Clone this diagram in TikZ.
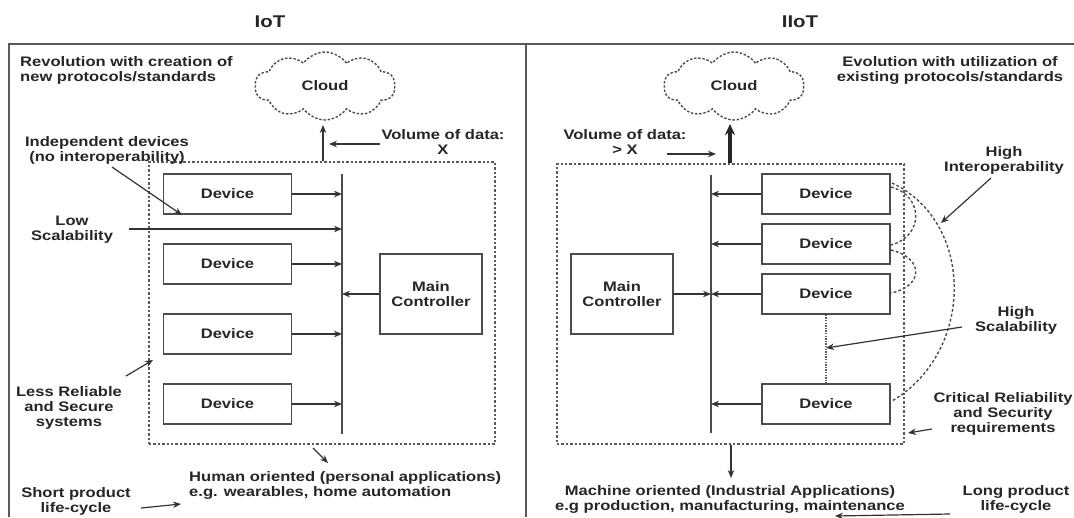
\documentclass[tikz,border=0pt]{standalone}
\usepackage{fontspec}
\setmainfont{Liberation Sans}[FakeStretch=1.2]
\usetikzlibrary{arrows.meta,shapes.symbols}
\newcommand{\lblf}{\fontsize{13.8}{15}\selectfont\bfseries}
\newcommand{\ttlf}{\fontsize{17}{20}\selectfont\bfseries}
\begin{document}
\begin{tikzpicture}[x=1pt,y=-1pt,
  lbl/.style={font=\lblf, text=black!85, align=center, inner sep=0pt},
  ttl/.style={font=\ttlf, text=black!85, inner sep=0pt},
  dev/.style={draw=black!70, line width=1.7pt, minimum width=128pt, minimum height=40pt, inner sep=0pt, font=\lblf, text=black!85},
  mcbox/.style={draw=black!70, line width=1.7pt, minimum width=102pt, minimum height=80pt, inner sep=0pt, font=\lblf, text=black!85, align=center},
  bus/.style={draw=black!70, line width=2.2pt},
  arr/.style={draw=black!80, line width=1.2pt, -{Stealth[length=8pt,width=6.5pt]}},
  dbox/.style={draw=black!65, line width=1.4pt, dash pattern=on 2.4pt off 2pt, inner sep=0pt},
  cld/.style={cloud, cloud puffs=10, cloud puff arc=110, aspect=2.1, draw=black!70, line width=1.4pt, dash pattern=on 2.4pt off 1.8pt, minimum width=140pt, minimum height=68pt, inner sep=0pt, font=\lblf, text=black!85},
  arc/.style={draw=black!70, line width=1.4pt, dash pattern=on 2.8pt off 2.2pt}
]
\useasboundingbox (0,0) rectangle (1074,517);
\fill[white] (0,0) rectangle (1074,517);

% panel frame
\draw[draw=black!65, line width=2pt] (9,517) -- (9,44) -- (1074,44);
\draw[draw=black!65, line width=2pt] (526,44) -- (526,517);

% ---------------- IoT ----------------
\node[ttl] (tIoT) at (270,22) {IoT};
\node[lbl, align=left, anchor=west] (revL) at (20,70) {Revolution with creation of\\new protocols/standards};
\node[cld] (cloudL) at (325,86) {Cloud};
\node[dbox, minimum width=346pt, minimum height=282pt] (boxL) at (322,303) {};
\coordinate (busLt) at (342,174);
\coordinate (busLb) at (342,434);
\draw[bus] (busLt) -- (busLb);
\node[dev] (dL1) at (227.5,194) {Device};
\node[dev] (dL2) at (227.5,264) {Device};
\node[dev] (dL3) at (227.5,334) {Device};
\node[dev] (dL4) at (227.5,404) {Device};
\node[mcbox] (mcL) at (431,294) {Main\\Controller};
\foreach \d in {dL1,dL2,dL3,dL4} \draw[arr] (\d.east) -- (\d.east -| busLt);
\draw[arr] (mcL.west) -- (mcL.west -| busLt);
\draw[arr, line width=1.4pt] (boxL.north -| 323,0) -- (323,125);

\node[lbl] (volL) at (443,142) {Volume of data:\\X};
\coordinate (volLe) at (329,144);
\draw[arr] (380,144) -- (volLe);

\node[lbl] (indep) at (107,150) {Independent devices\\(no interoperability)};
\coordinate (indepE) at (182,215);
\draw[arr] (112,167) -- (indepE);

\node[lbl] (low) at (72,230) {Low\\Scalability};
\draw[arr] (129,229) -- (busLt |- 0,229);

\node[lbl] (less) at (69,408) {Less Reliable\\and Secure\\systems};
\coordinate (lessE) at (153,360);
\draw[arr] (126,376) -- (lessE);

\node[lbl, align=left, anchor=west] (human) at (189,485) {Human oriented (personal applications)\\e.g. wearables, home automation};
\coordinate (humanE) at (328,463);
\draw[arr] (313,448) -- (humanE);

\node[lbl] (shortL) at (76,501) {Short product\\life-cycle};
\coordinate (shortE) at (181,504);
\draw[arr] (141,508) -- (shortE);

% ---------------- IIoT ----------------
\node[ttl] (tIIoT) at (800,22) {IIoT};
\node[lbl] (evoR) at (950,70) {Evolution with utilization of\\existing protocols/standards};
\node[cld] (cloudR) at (734,86) {Cloud};
\node[dbox, minimum width=347pt, minimum height=280pt] (boxR) at (730.5,304) {};
\coordinate (busRt) at (711,175);
\coordinate (busRb) at (711,433);
\draw[bus] (busRt) -- (busRb);
\node[dev] (dR1) at (826,194) {Device};
\node[dev] (dR2) at (826,244) {Device};
\node[dev] (dR3) at (826,294) {Device};
\node[dev] (dR4) at (826,404) {Device};
\node[mcbox] (mcR) at (622,294) {Main\\Controller};
\foreach \d in {dR1,dR2,dR3,dR4} \draw[arr] (\d.west) -- (\d.west -| busRt);
\draw[arr] (mcR.east) -- (mcR.east -| busRt);
\draw[draw=black!85, line width=3.2pt, -{Stealth[length=11pt,width=10pt]}] (boxR.north -| 730,0) -- (730,124);

\node[lbl] (volR) at (625,142) {Volume of data:\\> X};
\coordinate (volRe) at (716,154);
\draw[arr] (667,154) -- (volRe);

\node[lbl] (hint) at (1004,160) {High\\Interoperability};
\coordinate (hintE) at (941,223);
\draw[arr] (991,178) -- (hintE);

% interoperability arcs
\draw[arc] (891,187) .. controls (924,196) and (924,236) .. (891,245);
\draw[arc] (891,250) .. controls (924,258) and (924,286) .. (891,293);
\draw[arc] (892,183) .. controls (975,222) and (975,352) .. (892,401);

\draw[draw=black!65, line width=1.1pt, dash pattern=on 1.3pt off 1.3pt] (dR3.south) -- (dR4.north);

\node[lbl] (hscal) at (1016,320) {High\\Scalability};
\coordinate (hscalE) at (826,348);
\draw[arr] (962,327) -- (hscalE);

\node[lbl] (crit) at (1003,414) {Critical Reliability\\and Security\\requirements};
\coordinate (critE) at (908,433);
\draw[arr] (932,429) -- (critE);

\coordinate (downE) at (731,478);
\draw[arr, line width=1.6pt] (boxR.south -| downE) -- (downE);

\node[lbl] (mach) at (730,499) {Machine oriented (Industrial Applications)\\e.g production, manufacturing, maintenance};

\node[lbl] (longR) at (1016,499) {Long product\\life-cycle};
\coordinate (longE) at (835,516);
\draw[arr] (950,514) -- (longE);
\end{tikzpicture}
\end{document}
